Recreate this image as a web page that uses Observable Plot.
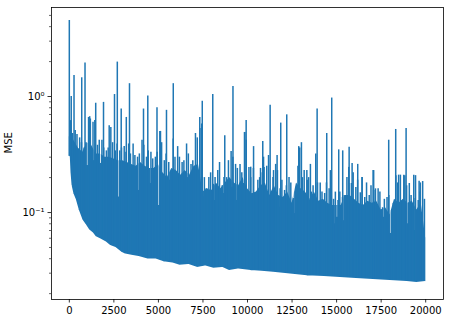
<!DOCTYPE html>
<html><head><meta charset="utf-8">
<script src="https://cdn.jsdelivr.net/npm/d3@7"></script>
<script src="https://cdn.jsdelivr.net/npm/@observablehq/plot@0.6"></script>
<style>body{margin:0;background:#fff} svg{display:block}</style>
</head><body><div id="chart"></div>
<script>
// Solid core of the MSE trace (top of the fully filled region), per 250 iterations
const coreIters = [0,250,500,750,1000,1250,1500,1750,2000,2250,2500,2750,3000,3250,3500,3750,4000,4250,4500,4750,
  5000,5250,5500,5750,6000,6250,6500,6750,7000,7250,7500,7750,8000,8250,8500,8750,9000,9250,9500,9750,
  10000,10250,10500,10750,11000,11250,11500,11750,12000,12250,12500,12750,13000,13250,13500,13750,14000,14250,14500,14750,
  15000,15250,15500,15750,16000,16250,16500,16750,17000,17250,17500,17750,18000,18250,18500,18750,19000,19250,19500,19750,19999];
const coreTops = [0.45,0.42,0.36,0.33,0.40,0.38,0.32,0.32,0.30,0.30,0.29,0.28,0.28,0.27,0.26,0.25,0.27,0.25,0.24,0.24,
  0.26,0.22,0.20,0.24,0.23,0.21,0.23,0.21,0.25,0.26,0.15,0.16,0.155,0.18,0.16,0.18,0.20,0.18,0.17,0.20,
  0.16,0.145,0.15,0.17,0.18,0.14,0.17,0.14,0.135,0.15,0.12,0.18,0.16,0.15,0.13,0.15,0.125,0.13,0.12,0.115,
  0.115,0.115,0.14,0.14,0.13,0.12,0.115,0.125,0.12,0.125,0.105,0.11,0.095,0.13,0.12,0.13,0.12,0.125,0.105,0.12,0.06];
// Lower envelope of the trace
const lowIters = [0,40,100,200,350,500,720,900,1100,1300,1470,1750,2030,2300,2600,2900,3150,3500,3900,4400,4850,5300,5800,6200,6700,7200,7650,8100,8600,9000,9500,10200,10800,11450,12400,13350,14300,15200,16100,17050,18000,18950,19500,19999];
const lowVals  = [0.30,0.22,0.17,0.145,0.127,0.105,0.085,0.078,0.070,0.066,0.061,0.058,0.055,0.051,0.049,0.045,0.043,0.042,0.041,0.039,0.039,0.037,0.036,0.0345,0.035,0.033,0.034,0.0325,0.033,0.031,0.032,0.031,0.0305,0.030,0.029,0.028,0.0275,0.027,0.0265,0.026,0.0255,0.025,0.0245,0.025];
// Narrow dips (white streaks) cutting into the body: iteration and the depth reached
const dipIters = [1004,1374,1750,2777,3433,3899,4555,5021,5582,6053,6614,7585,7826,8107,8387,8668,9139,9419,9789,
  10261,11848,12595,13436,14838,15029,15400,16336,17643,18020,18956,19326];
const dipVals = [0.254,0.28,0.265,0.136,0.123,0.155,0.178,0.115,0.19,0.23,0.20,0.136,0.155,0.127,0.208,0.146,0.165,0.127,0.178,
  0.146,0.111,0.098,0.127,0.08,0.091,0.085,0.119,0.091,0.066,0.08,0.07];
// Medium spikes forming the ragged top of the body
const medIters = [80,180,330,430,580,680,830,930,1080,1180,1330,1430,1580,1680,1830,1930,2080,2180,2330,2430,
  2580,2680,2830,2930,3080,3180,3330,3430,3580,3680,3830,3930,4080,4180,4330,4430,4580,4680,4830,4930,
  5080,5180,5330,5430,5580,5680,5830,5930,6080,6180,6330,6430,6580,6680,6830,6930,7080,7180,7330,7430,
  7580,7680,7830,7930,8080,8180,8330,8430,8580,8680,8830,8930,9080,9180,9330,9430,9580,9680,9830,9930,
  10080,10180,10330,10430,10580,10680,10830,10930,11080,11180,11330,11430,11580,11680,11830,11930,12080,12180,12330,12430,
  12580,12680,12830,12930,13080,13180,13330,13430,13580,13680,13830,13930,14080,14180,14330,14430,14580,14680,14830,14930,
  15080,15180,15330,15430,15580,15680,15830,15930,16080,16180,16330,16430,16580,16680,16830,16930,17080,17180,17330,17430,
  17580,17680,17830,17930,18080,18180,18330,18430,18580,18680,18830,18930,19080,19180,19330,19430,19580,19680,19830,19930];
const medPeaks = [0.62,0.48,0.51,0.47,0.44,0.40,0.36,0.40,0.66,0.64,0.60,0.62,0.38,0.42,0.42,0.36,0.34,0.36,0.54,0.40,
  0.34,0.39,0.34,0.36,0.37,0.33,0.39,0.32,0.39,0.31,0.30,0.32,0.42,0.38,0.30,0.34,0.33,0.29,0.30,0.33,
  0.50,0.40,0.28,0.32,0.27,0.22,0.43,0.30,0.37,0.30,0.27,0.28,0.39,0.32,0.26,0.28,0.48,0.44,0.53,0.58,
  0.20,0.16,0.20,0.22,0.175,0.20,0.23,0.27,0.17,0.20,0.20,0.28,0.335,0.30,0.26,0.24,0.26,0.22,0.49,0.42,
  0.245,0.20,0.24,0.14,0.19,0.20,0.22,0.245,0.25,0.31,0.15,0.20,0.26,0.23,0.16,0.19,0.155,0.17,0.20,0.18,
  0.132,0.15,0.25,0.36,0.20,0.23,0.23,0.20,0.15,0.17,0.32,0.18,0.18,0.15,0.146,0.18,0.16,0.14,0.13,0.15,
  0.127,0.15,0.135,0.14,0.20,0.178,0.178,0.22,0.164,0.19,0.148,0.20,0.135,0.18,0.14,0.17,0.155,0.16,0.16,0.15,
  0.11,0.13,0.135,0.14,0.104,0.12,0.208,0.18,0.21,0.127,0.208,0.17,0.178,0.14,0.132,0.208,0.127,0.15,0.185,0.13];
// Isolated tall spikes
const spikeIters = [0,107,264,696,881,1144,1481,1919,2238,2536,2693,2912,3198,3377,4163,4404,4920,5116,5453,5834,
  7321,7461,8050,8724,9184,9850,9924,10180,10340,10730,10856,10900,11270,11460,11660,11865,12202,12875,13026,13350,13530,
  13907,14446,14650,14726,15119,15343,15680,15703,15870,16185,16430,17049,17080,17924,18317,18480,18770,18900,19330,19630,19700];
const spikePeaks = [4.52,1.0,1.52,1.45,1.94,0.67,0.875,0.89,0.56,1.04,1.98,0.78,0.66,1.29,0.78,1.01,0.80,0.50,0.76,1.29,
  0.66,0.91,1.04,0.46,1.22,0.49,0.62,0.246,0.37,0.24,0.41,0.30,0.84,0.23,0.31,0.59,0.695,0.37,0.40,0.19,0.26,
  0.78,0.48,0.23,0.97,0.347,0.34,0.245,0.365,0.265,0.26,0.20,0.23,0.23,0.42,0.52,0.21,0.21,0.53,0.21,0.186,0.18];
const xTicks = [0,2500,5000,7500,10000,12500,15000,17500,20000];
const yMajorTicks = [0.1, 1];
const yMajorLabels = ["10\u207B\u00B9", "10\u2070"];
const yMinorTicks = [0.02,0.03,0.04,0.05,0.06,0.07,0.08,0.09,0.2,0.3,0.4,0.5,0.6,0.7,0.8,0.9,2,3,4,5];

const yFloor = 0.0178, yCeil = 5.85;
const blue = "#1f77b4";
const core = coreIters.map((x, i) => ({x, top: coreTops[i]}));
const low = lowIters.map((x, i) => ({x, lo: lowVals[i]}));
const dips = dipIters.map((x, i) => ({x, depth: dipVals[i]}));
const spikes = spikeIters.map((x, i) => ({x, peak: spikePeaks[i]}))
  .concat(medIters.map((x, i) => ({x, peak: medPeaks[i]})));

const chart = Plot.plot({
  width: 449, height: 321,
  marginLeft: 51, marginRight: 6, marginTop: 7, marginBottom: 22,
  style: {fontFamily: "DejaVu Sans, sans-serif", fontSize: "10px", color: "#000", background: "#fff"},
  x: {domain: [-1000, 20999]},
  y: {type: "log", domain: [yFloor, yCeil]},
  marks: [
    Plot.areaY(core, {x: "x", y1: yFloor, y2: "top", fill: blue}),
    Plot.ruleX(dips, {x: "x", y1: "depth", y2: yCeil, stroke: "#fff", strokeWidth: 1, strokeOpacity: 0.8}),
    Plot.ruleX(spikes, {x: "x", y1: yFloor, y2: "peak", stroke: blue, strokeWidth: 1.5}),
    Plot.areaY(low, {x: "x", y1: yFloor, y2: "lo", fill: "#fff", stroke: "#fff", strokeWidth: 2}),
    Plot.axisX(xTicks, {tickSize: 3.5, tickPadding: 3.5, strokeWidth: 0.8, tickFormat: d => String(d), label: null}),
    Plot.axisY(yMajorTicks, {tickSize: 3.5, tickPadding: 3.5, strokeWidth: 0.8, tickFormat: d => yMajorLabels[yMajorTicks.indexOf(d)], label: null}),
    Plot.axisY(yMinorTicks, {tickSize: 2, strokeWidth: 0.6, tickFormat: () => "", label: null}),
    Plot.text(["MSE"], {frameAnchor: "left", rotate: -90, dx: -43, fontSize: 10, fill: "#000"}),
    Plot.frame({stroke: "#000", strokeWidth: 0.8})
  ]
});
document.getElementById("chart").appendChild(chart);
</script>
</body></html>
